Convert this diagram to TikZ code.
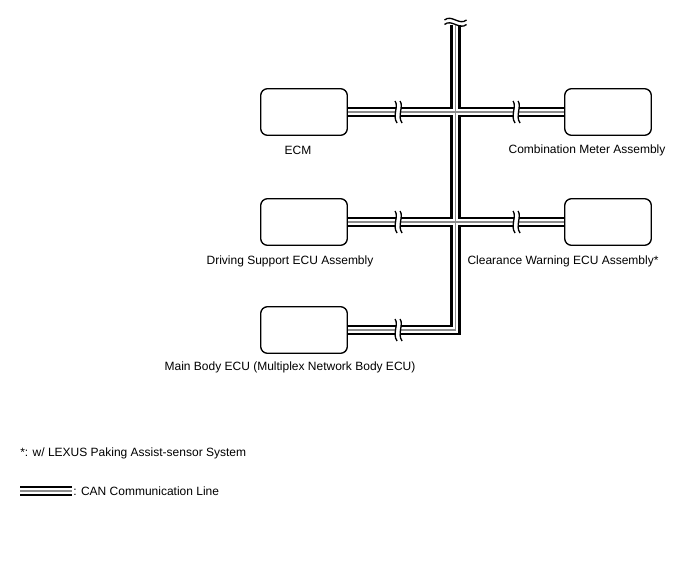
\documentclass[tikz,border=0pt]{standalone}
\usepackage{fontspec}
\setmainfont{Liberation Sans}
\begin{document}
\begin{tikzpicture}[x=0.75pt,y=-0.75pt,
  ecu/.style={minimum width=64.5pt, minimum height=34.5pt, inner sep=0pt, fill=white},
  ecuborder/.style={line width=1.0pt, rounded corners=5pt},
  lbl/.style={font=\fontsize{9}{11}\selectfont, inner sep=0pt},
  busA/.style={line width=7.8pt, draw=black},
  busB/.style={line width=3.9pt, draw=white},
  busC/.style={line width=0.9pt, draw=black!45},
  brk/.pic={
    \fill[white] (-2,-7) rectangle (3,7);
    \draw[line width=1pt] (-3,-11) .. controls (1,-6) and (-6,4) .. (-1,11);
    \draw[line width=1pt] (2,-11) .. controls (6,-6) and (-1,4) .. (4,11);
  },
  wav/.pic={
    \fill[white] (-11,-4) rectangle (11,1);
    \draw[line width=1pt] (-11,-2) .. controls (-4,-8) and (4,4) .. (11,-2);
    \draw[line width=1pt] (-11,2.5) .. controls (-4,-3.5) and (4,8.5) .. (11,2.5);
  }]
\fill[white] (0,0) rectangle (688,560);
\useasboundingbox (0,0) rectangle (688,560);

% ECUs
\node[ecu] (ecm) at (304,112) {};
\node[ecu] (cmb) at (608,112) {};
\node[ecu] (dsu) at (304,222) {};
\node[ecu] (cwe) at (608,222) {};
\node[ecu] (mbe) at (304,330) {};

% bus points
\coordinate (top) at (455.5,25);
\coordinate (j3) at (455.5,330);
\coordinate (l1) at (20,491);
\coordinate (l2) at (72,491);

\foreach \s in {busA,busB,busC} {
  \draw[\s] (ecm.east) -- (cmb.west);
  \draw[\s] (dsu.east) -- (cwe.west);
  \draw[\s, line join=miter] (top) -- (j3) -- (mbe.east);
  \draw[\s] (l1) -- (l2);
}

% box borders over bus ends
\foreach \n in {ecm,cmb,dsu,cwe,mbe} {
  \draw[ecuborder] (\n.south west) rectangle (\n.north east);
}

% break marks
\pic at (398,112) {brk};
\pic at (516,112) {brk};
\pic at (398,222) {brk};
\pic at (516,222) {brk};
\pic at (398,330) {brk};
\pic at (455.5,22) {wav};

% labels
\node[lbl] (tecm) at (298,150) {ECM};
\node[lbl] (tcmb) at (587,150) {Combination Meter Assembly};
\node[lbl] (tdsu) at (290,261) {Driving Support ECU Assembly};
\node[lbl] (tcwe) at (563,261) {Clearance Warning ECU Assembly*};
\node[lbl] (tmbe) at (290,367) {Main Body ECU (Multiplex Network Body ECU)};
\node[lbl, anchor=west] (note) at (20,453) {*: w/ LEXUS Paking Assist-sensor System};
\node[lbl, anchor=west] (leg) at (73,491) {: CAN Communication Line};
\end{tikzpicture}
\end{document}
